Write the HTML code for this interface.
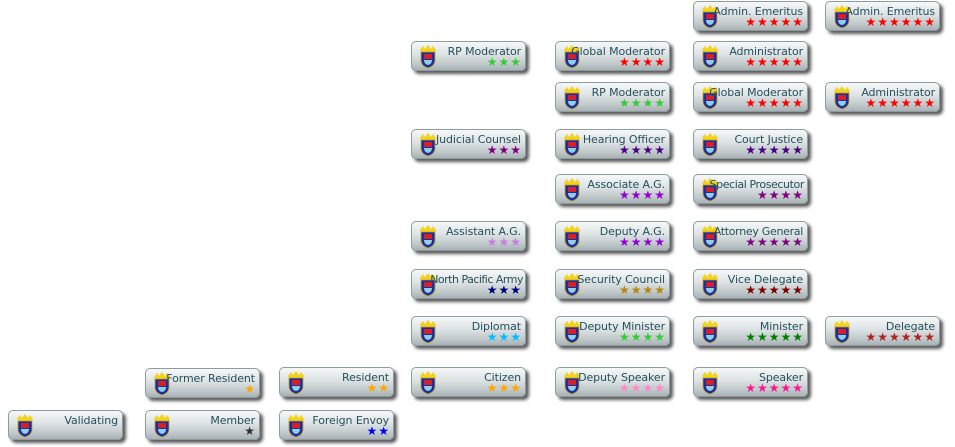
<!DOCTYPE html>
<html><head><meta charset="utf-8"><style>
html,body{margin:0;padding:0;background:#fff;width:955px;height:447px;overflow:hidden;position:relative;font-family:"DejaVu Sans","Liberation Sans",sans-serif}
.b{position:absolute;width:113px;height:28px;border:1px solid #8d9ca1;border-radius:5px;background:linear-gradient(#f6f8f8 0%,#dde2e3 45%,#c3cbcd 75%,#a8b2b5 100%);box-shadow:3px 3px 3px rgba(0,0,0,.65)}
.b svg{position:absolute;left:5px;top:3px}
.l{position:absolute;right:4px;top:3px;font-size:11px;color:#24505d;white-space:nowrap;letter-spacing:-0.1px}
.s{position:absolute;right:3px;top:14px;font-size:12px;line-height:13px;letter-spacing:1px;white-space:nowrap}
</style></head><body>
<div class="b" style="left:693px;top:1px"><svg width="22" height="24" viewBox="0 0 22 24"><path d="M3 5 L6 1 L8 4 L11 0 L14 4 L16 1 L19 5 L18 7 L4 7Z" fill="#f2d21a"/><path d="M4 7 H18 V15 Q18 21 11 23 Q4 21 4 15Z" fill="#1d2f9a" stroke="#c9a020" stroke-width="0.8"/><rect x="7" y="9" width="8" height="5" fill="#d4202a"/><path d="M7 15 H15 Q15 19 11 20 Q7 19 7 15Z" fill="#8fd0e8"/></svg><span class="l">Admin. Emeritus</span><span class="s" style="color:#f00">★★★★★</span></div>
<div class="b" style="left:825px;top:1px"><svg width="22" height="24" viewBox="0 0 22 24"><path d="M3 5 L6 1 L8 4 L11 0 L14 4 L16 1 L19 5 L18 7 L4 7Z" fill="#f2d21a"/><path d="M4 7 H18 V15 Q18 21 11 23 Q4 21 4 15Z" fill="#1d2f9a" stroke="#c9a020" stroke-width="0.8"/><rect x="7" y="9" width="8" height="5" fill="#d4202a"/><path d="M7 15 H15 Q15 19 11 20 Q7 19 7 15Z" fill="#8fd0e8"/></svg><span class="l">Admin. Emeritus</span><span class="s" style="color:#f00">★★★★★★</span></div>

<div class="b" style="left:411px;top:41px"><svg width="22" height="24" viewBox="0 0 22 24"><path d="M3 5 L6 1 L8 4 L11 0 L14 4 L16 1 L19 5 L18 7 L4 7Z" fill="#f2d21a"/><path d="M4 7 H18 V15 Q18 21 11 23 Q4 21 4 15Z" fill="#1d2f9a" stroke="#c9a020" stroke-width="0.8"/><rect x="7" y="9" width="8" height="5" fill="#d4202a"/><path d="M7 15 H15 Q15 19 11 20 Q7 19 7 15Z" fill="#8fd0e8"/></svg><span class="l">RP Moderator</span><span class="s" style="color:#32cd32">★★★</span></div>
<div class="b" style="left:555px;top:41px"><svg width="22" height="24" viewBox="0 0 22 24"><path d="M3 5 L6 1 L8 4 L11 0 L14 4 L16 1 L19 5 L18 7 L4 7Z" fill="#f2d21a"/><path d="M4 7 H18 V15 Q18 21 11 23 Q4 21 4 15Z" fill="#1d2f9a" stroke="#c9a020" stroke-width="0.8"/><rect x="7" y="9" width="8" height="5" fill="#d4202a"/><path d="M7 15 H15 Q15 19 11 20 Q7 19 7 15Z" fill="#8fd0e8"/></svg><span class="l">Global Moderator</span><span class="s" style="color:#f00">★★★★</span></div>
<div class="b" style="left:693px;top:41px"><svg width="22" height="24" viewBox="0 0 22 24"><path d="M3 5 L6 1 L8 4 L11 0 L14 4 L16 1 L19 5 L18 7 L4 7Z" fill="#f2d21a"/><path d="M4 7 H18 V15 Q18 21 11 23 Q4 21 4 15Z" fill="#1d2f9a" stroke="#c9a020" stroke-width="0.8"/><rect x="7" y="9" width="8" height="5" fill="#d4202a"/><path d="M7 15 H15 Q15 19 11 20 Q7 19 7 15Z" fill="#8fd0e8"/></svg><span class="l">Administrator</span><span class="s" style="color:#f00">★★★★★</span></div>

<div class="b" style="left:555px;top:82px"><svg width="22" height="24" viewBox="0 0 22 24"><path d="M3 5 L6 1 L8 4 L11 0 L14 4 L16 1 L19 5 L18 7 L4 7Z" fill="#f2d21a"/><path d="M4 7 H18 V15 Q18 21 11 23 Q4 21 4 15Z" fill="#1d2f9a" stroke="#c9a020" stroke-width="0.8"/><rect x="7" y="9" width="8" height="5" fill="#d4202a"/><path d="M7 15 H15 Q15 19 11 20 Q7 19 7 15Z" fill="#8fd0e8"/></svg><span class="l">RP Moderator</span><span class="s" style="color:#32cd32">★★★★</span></div>
<div class="b" style="left:693px;top:82px"><svg width="22" height="24" viewBox="0 0 22 24"><path d="M3 5 L6 1 L8 4 L11 0 L14 4 L16 1 L19 5 L18 7 L4 7Z" fill="#f2d21a"/><path d="M4 7 H18 V15 Q18 21 11 23 Q4 21 4 15Z" fill="#1d2f9a" stroke="#c9a020" stroke-width="0.8"/><rect x="7" y="9" width="8" height="5" fill="#d4202a"/><path d="M7 15 H15 Q15 19 11 20 Q7 19 7 15Z" fill="#8fd0e8"/></svg><span class="l">Global Moderator</span><span class="s" style="color:#f00">★★★★★</span></div>
<div class="b" style="left:825px;top:82px"><svg width="22" height="24" viewBox="0 0 22 24"><path d="M3 5 L6 1 L8 4 L11 0 L14 4 L16 1 L19 5 L18 7 L4 7Z" fill="#f2d21a"/><path d="M4 7 H18 V15 Q18 21 11 23 Q4 21 4 15Z" fill="#1d2f9a" stroke="#c9a020" stroke-width="0.8"/><rect x="7" y="9" width="8" height="5" fill="#d4202a"/><path d="M7 15 H15 Q15 19 11 20 Q7 19 7 15Z" fill="#8fd0e8"/></svg><span class="l">Administrator</span><span class="s" style="color:#f00">★★★★★★</span></div>

<div class="b" style="left:411px;top:129px"><svg width="22" height="24" viewBox="0 0 22 24"><path d="M3 5 L6 1 L8 4 L11 0 L14 4 L16 1 L19 5 L18 7 L4 7Z" fill="#f2d21a"/><path d="M4 7 H18 V15 Q18 21 11 23 Q4 21 4 15Z" fill="#1d2f9a" stroke="#c9a020" stroke-width="0.8"/><rect x="7" y="9" width="8" height="5" fill="#d4202a"/><path d="M7 15 H15 Q15 19 11 20 Q7 19 7 15Z" fill="#8fd0e8"/></svg><span class="l">Judicial Counsel</span><span class="s" style="color:#800080">★★★</span></div>
<div class="b" style="left:555px;top:129px"><svg width="22" height="24" viewBox="0 0 22 24"><path d="M3 5 L6 1 L8 4 L11 0 L14 4 L16 1 L19 5 L18 7 L4 7Z" fill="#f2d21a"/><path d="M4 7 H18 V15 Q18 21 11 23 Q4 21 4 15Z" fill="#1d2f9a" stroke="#c9a020" stroke-width="0.8"/><rect x="7" y="9" width="8" height="5" fill="#d4202a"/><path d="M7 15 H15 Q15 19 11 20 Q7 19 7 15Z" fill="#8fd0e8"/></svg><span class="l">Hearing Officer</span><span class="s" style="color:#4b0082">★★★★</span></div>
<div class="b" style="left:693px;top:129px"><svg width="22" height="24" viewBox="0 0 22 24"><path d="M3 5 L6 1 L8 4 L11 0 L14 4 L16 1 L19 5 L18 7 L4 7Z" fill="#f2d21a"/><path d="M4 7 H18 V15 Q18 21 11 23 Q4 21 4 15Z" fill="#1d2f9a" stroke="#c9a020" stroke-width="0.8"/><rect x="7" y="9" width="8" height="5" fill="#d4202a"/><path d="M7 15 H15 Q15 19 11 20 Q7 19 7 15Z" fill="#8fd0e8"/></svg><span class="l">Court Justice</span><span class="s" style="color:#4b0082">★★★★★</span></div>

<div class="b" style="left:555px;top:174px"><svg width="22" height="24" viewBox="0 0 22 24"><path d="M3 5 L6 1 L8 4 L11 0 L14 4 L16 1 L19 5 L18 7 L4 7Z" fill="#f2d21a"/><path d="M4 7 H18 V15 Q18 21 11 23 Q4 21 4 15Z" fill="#1d2f9a" stroke="#c9a020" stroke-width="0.8"/><rect x="7" y="9" width="8" height="5" fill="#d4202a"/><path d="M7 15 H15 Q15 19 11 20 Q7 19 7 15Z" fill="#8fd0e8"/></svg><span class="l">Associate A.G.</span><span class="s" style="color:#9400d3">★★★★</span></div>
<div class="b" style="left:693px;top:174px"><svg width="22" height="24" viewBox="0 0 22 24"><path d="M3 5 L6 1 L8 4 L11 0 L14 4 L16 1 L19 5 L18 7 L4 7Z" fill="#f2d21a"/><path d="M4 7 H18 V15 Q18 21 11 23 Q4 21 4 15Z" fill="#1d2f9a" stroke="#c9a020" stroke-width="0.8"/><rect x="7" y="9" width="8" height="5" fill="#d4202a"/><path d="M7 15 H15 Q15 19 11 20 Q7 19 7 15Z" fill="#8fd0e8"/></svg><span class="l" style="right:3px;letter-spacing:-0.4px">Special Prosecutor</span><span class="s" style="color:#800080">★★★★</span></div>

<div class="b" style="left:411px;top:221px"><svg width="22" height="24" viewBox="0 0 22 24"><path d="M3 5 L6 1 L8 4 L11 0 L14 4 L16 1 L19 5 L18 7 L4 7Z" fill="#f2d21a"/><path d="M4 7 H18 V15 Q18 21 11 23 Q4 21 4 15Z" fill="#1d2f9a" stroke="#c9a020" stroke-width="0.8"/><rect x="7" y="9" width="8" height="5" fill="#d4202a"/><path d="M7 15 H15 Q15 19 11 20 Q7 19 7 15Z" fill="#8fd0e8"/></svg><span class="l">Assistant A.G.</span><span class="s" style="color:#c77ee0">★★★</span></div>
<div class="b" style="left:555px;top:221px"><svg width="22" height="24" viewBox="0 0 22 24"><path d="M3 5 L6 1 L8 4 L11 0 L14 4 L16 1 L19 5 L18 7 L4 7Z" fill="#f2d21a"/><path d="M4 7 H18 V15 Q18 21 11 23 Q4 21 4 15Z" fill="#1d2f9a" stroke="#c9a020" stroke-width="0.8"/><rect x="7" y="9" width="8" height="5" fill="#d4202a"/><path d="M7 15 H15 Q15 19 11 20 Q7 19 7 15Z" fill="#8fd0e8"/></svg><span class="l">Deputy A.G.</span><span class="s" style="color:#9400d3">★★★★</span></div>
<div class="b" style="left:693px;top:221px"><svg width="22" height="24" viewBox="0 0 22 24"><path d="M3 5 L6 1 L8 4 L11 0 L14 4 L16 1 L19 5 L18 7 L4 7Z" fill="#f2d21a"/><path d="M4 7 H18 V15 Q18 21 11 23 Q4 21 4 15Z" fill="#1d2f9a" stroke="#c9a020" stroke-width="0.8"/><rect x="7" y="9" width="8" height="5" fill="#d4202a"/><path d="M7 15 H15 Q15 19 11 20 Q7 19 7 15Z" fill="#8fd0e8"/></svg><span class="l" style="letter-spacing:-0.3px">Attorney General</span><span class="s" style="color:#800080">★★★★★</span></div>

<div class="b" style="left:411px;top:269px"><svg width="22" height="24" viewBox="0 0 22 24"><path d="M3 5 L6 1 L8 4 L11 0 L14 4 L16 1 L19 5 L18 7 L4 7Z" fill="#f2d21a"/><path d="M4 7 H18 V15 Q18 21 11 23 Q4 21 4 15Z" fill="#1d2f9a" stroke="#c9a020" stroke-width="0.8"/><rect x="7" y="9" width="8" height="5" fill="#d4202a"/><path d="M7 15 H15 Q15 19 11 20 Q7 19 7 15Z" fill="#8fd0e8"/></svg><span class="l" style="right:2px;letter-spacing:-0.5px">North Pacific Army</span><span class="s" style="color:#000080">★★★</span></div>
<div class="b" style="left:555px;top:269px"><svg width="22" height="24" viewBox="0 0 22 24"><path d="M3 5 L6 1 L8 4 L11 0 L14 4 L16 1 L19 5 L18 7 L4 7Z" fill="#f2d21a"/><path d="M4 7 H18 V15 Q18 21 11 23 Q4 21 4 15Z" fill="#1d2f9a" stroke="#c9a020" stroke-width="0.8"/><rect x="7" y="9" width="8" height="5" fill="#d4202a"/><path d="M7 15 H15 Q15 19 11 20 Q7 19 7 15Z" fill="#8fd0e8"/></svg><span class="l">Security Council</span><span class="s" style="color:#b8860b">★★★★</span></div>
<div class="b" style="left:693px;top:269px"><svg width="22" height="24" viewBox="0 0 22 24"><path d="M3 5 L6 1 L8 4 L11 0 L14 4 L16 1 L19 5 L18 7 L4 7Z" fill="#f2d21a"/><path d="M4 7 H18 V15 Q18 21 11 23 Q4 21 4 15Z" fill="#1d2f9a" stroke="#c9a020" stroke-width="0.8"/><rect x="7" y="9" width="8" height="5" fill="#d4202a"/><path d="M7 15 H15 Q15 19 11 20 Q7 19 7 15Z" fill="#8fd0e8"/></svg><span class="l">Vice Delegate</span><span class="s" style="color:#800000">★★★★★</span></div>

<div class="b" style="left:411px;top:316px"><svg width="22" height="24" viewBox="0 0 22 24"><path d="M3 5 L6 1 L8 4 L11 0 L14 4 L16 1 L19 5 L18 7 L4 7Z" fill="#f2d21a"/><path d="M4 7 H18 V15 Q18 21 11 23 Q4 21 4 15Z" fill="#1d2f9a" stroke="#c9a020" stroke-width="0.8"/><rect x="7" y="9" width="8" height="5" fill="#d4202a"/><path d="M7 15 H15 Q15 19 11 20 Q7 19 7 15Z" fill="#8fd0e8"/></svg><span class="l">Diplomat</span><span class="s" style="color:#00bfff">★★★</span></div>
<div class="b" style="left:555px;top:316px"><svg width="22" height="24" viewBox="0 0 22 24"><path d="M3 5 L6 1 L8 4 L11 0 L14 4 L16 1 L19 5 L18 7 L4 7Z" fill="#f2d21a"/><path d="M4 7 H18 V15 Q18 21 11 23 Q4 21 4 15Z" fill="#1d2f9a" stroke="#c9a020" stroke-width="0.8"/><rect x="7" y="9" width="8" height="5" fill="#d4202a"/><path d="M7 15 H15 Q15 19 11 20 Q7 19 7 15Z" fill="#8fd0e8"/></svg><span class="l">Deputy Minister</span><span class="s" style="color:#32cd32">★★★★</span></div>
<div class="b" style="left:693px;top:316px"><svg width="22" height="24" viewBox="0 0 22 24"><path d="M3 5 L6 1 L8 4 L11 0 L14 4 L16 1 L19 5 L18 7 L4 7Z" fill="#f2d21a"/><path d="M4 7 H18 V15 Q18 21 11 23 Q4 21 4 15Z" fill="#1d2f9a" stroke="#c9a020" stroke-width="0.8"/><rect x="7" y="9" width="8" height="5" fill="#d4202a"/><path d="M7 15 H15 Q15 19 11 20 Q7 19 7 15Z" fill="#8fd0e8"/></svg><span class="l">Minister</span><span class="s" style="color:#008000">★★★★★</span></div>
<div class="b" style="left:825px;top:316px"><svg width="22" height="24" viewBox="0 0 22 24"><path d="M3 5 L6 1 L8 4 L11 0 L14 4 L16 1 L19 5 L18 7 L4 7Z" fill="#f2d21a"/><path d="M4 7 H18 V15 Q18 21 11 23 Q4 21 4 15Z" fill="#1d2f9a" stroke="#c9a020" stroke-width="0.8"/><rect x="7" y="9" width="8" height="5" fill="#d4202a"/><path d="M7 15 H15 Q15 19 11 20 Q7 19 7 15Z" fill="#8fd0e8"/></svg><span class="l">Delegate</span><span class="s" style="color:#b22222">★★★★★★</span></div>

<div class="b" style="left:145px;top:368px"><svg width="22" height="24" viewBox="0 0 22 24"><path d="M3 5 L6 1 L8 4 L11 0 L14 4 L16 1 L19 5 L18 7 L4 7Z" fill="#f2d21a"/><path d="M4 7 H18 V15 Q18 21 11 23 Q4 21 4 15Z" fill="#1d2f9a" stroke="#c9a020" stroke-width="0.8"/><rect x="7" y="9" width="8" height="5" fill="#d4202a"/><path d="M7 15 H15 Q15 19 11 20 Q7 19 7 15Z" fill="#8fd0e8"/></svg><span class="l">Former Resident</span><span class="s" style="color:#ffa500">★</span></div>
<div class="b" style="left:279px;top:367px"><svg width="22" height="24" viewBox="0 0 22 24"><path d="M3 5 L6 1 L8 4 L11 0 L14 4 L16 1 L19 5 L18 7 L4 7Z" fill="#f2d21a"/><path d="M4 7 H18 V15 Q18 21 11 23 Q4 21 4 15Z" fill="#1d2f9a" stroke="#c9a020" stroke-width="0.8"/><rect x="7" y="9" width="8" height="5" fill="#d4202a"/><path d="M7 15 H15 Q15 19 11 20 Q7 19 7 15Z" fill="#8fd0e8"/></svg><span class="l">Resident</span><span class="s" style="color:#ffa500">★★</span></div>
<div class="b" style="left:411px;top:367px"><svg width="22" height="24" viewBox="0 0 22 24"><path d="M3 5 L6 1 L8 4 L11 0 L14 4 L16 1 L19 5 L18 7 L4 7Z" fill="#f2d21a"/><path d="M4 7 H18 V15 Q18 21 11 23 Q4 21 4 15Z" fill="#1d2f9a" stroke="#c9a020" stroke-width="0.8"/><rect x="7" y="9" width="8" height="5" fill="#d4202a"/><path d="M7 15 H15 Q15 19 11 20 Q7 19 7 15Z" fill="#8fd0e8"/></svg><span class="l">Citizen</span><span class="s" style="color:#ffa500">★★★</span></div>
<div class="b" style="left:555px;top:367px"><svg width="22" height="24" viewBox="0 0 22 24"><path d="M3 5 L6 1 L8 4 L11 0 L14 4 L16 1 L19 5 L18 7 L4 7Z" fill="#f2d21a"/><path d="M4 7 H18 V15 Q18 21 11 23 Q4 21 4 15Z" fill="#1d2f9a" stroke="#c9a020" stroke-width="0.8"/><rect x="7" y="9" width="8" height="5" fill="#d4202a"/><path d="M7 15 H15 Q15 19 11 20 Q7 19 7 15Z" fill="#8fd0e8"/></svg><span class="l">Deputy Speaker</span><span class="s" style="color:#ff88c8">★★★★</span></div>
<div class="b" style="left:693px;top:367px"><svg width="22" height="24" viewBox="0 0 22 24"><path d="M3 5 L6 1 L8 4 L11 0 L14 4 L16 1 L19 5 L18 7 L4 7Z" fill="#f2d21a"/><path d="M4 7 H18 V15 Q18 21 11 23 Q4 21 4 15Z" fill="#1d2f9a" stroke="#c9a020" stroke-width="0.8"/><rect x="7" y="9" width="8" height="5" fill="#d4202a"/><path d="M7 15 H15 Q15 19 11 20 Q7 19 7 15Z" fill="#8fd0e8"/></svg><span class="l">Speaker</span><span class="s" style="color:#ff1493">★★★★★</span></div>

<div class="b" style="left:8px;top:410px"><svg width="22" height="24" viewBox="0 0 22 24"><path d="M3 5 L6 1 L8 4 L11 0 L14 4 L16 1 L19 5 L18 7 L4 7Z" fill="#f2d21a"/><path d="M4 7 H18 V15 Q18 21 11 23 Q4 21 4 15Z" fill="#1d2f9a" stroke="#c9a020" stroke-width="0.8"/><rect x="7" y="9" width="8" height="5" fill="#d4202a"/><path d="M7 15 H15 Q15 19 11 20 Q7 19 7 15Z" fill="#8fd0e8"/></svg><span class="l">Validating</span></div>
<div class="b" style="left:145px;top:410px"><svg width="22" height="24" viewBox="0 0 22 24"><path d="M3 5 L6 1 L8 4 L11 0 L14 4 L16 1 L19 5 L18 7 L4 7Z" fill="#f2d21a"/><path d="M4 7 H18 V15 Q18 21 11 23 Q4 21 4 15Z" fill="#1d2f9a" stroke="#c9a020" stroke-width="0.8"/><rect x="7" y="9" width="8" height="5" fill="#d4202a"/><path d="M7 15 H15 Q15 19 11 20 Q7 19 7 15Z" fill="#8fd0e8"/></svg><span class="l">Member</span><span class="s" style="color:#333">★</span></div>
<div class="b" style="left:279px;top:410px"><svg width="22" height="24" viewBox="0 0 22 24"><path d="M3 5 L6 1 L8 4 L11 0 L14 4 L16 1 L19 5 L18 7 L4 7Z" fill="#f2d21a"/><path d="M4 7 H18 V15 Q18 21 11 23 Q4 21 4 15Z" fill="#1d2f9a" stroke="#c9a020" stroke-width="0.8"/><rect x="7" y="9" width="8" height="5" fill="#d4202a"/><path d="M7 15 H15 Q15 19 11 20 Q7 19 7 15Z" fill="#8fd0e8"/></svg><span class="l">Foreign Envoy</span><span class="s" style="color:#0000ff">★★</span></div>
</body></html>
